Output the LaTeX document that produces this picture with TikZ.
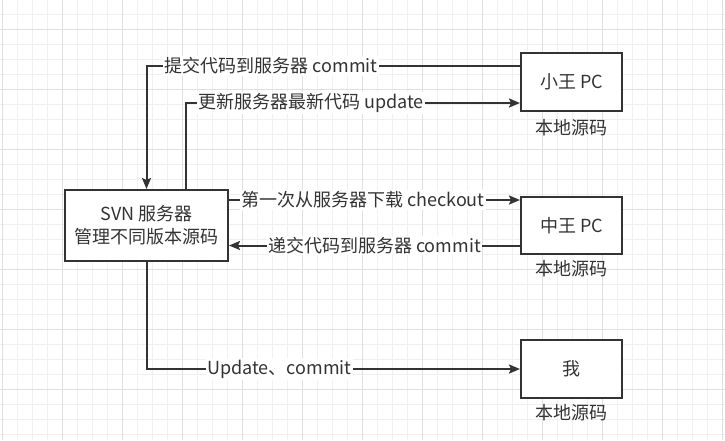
\documentclass[tikz,border=0pt]{standalone}
\usepackage{fontspec}
\setmainfont{Noto Sans CJK SC}
\usetikzlibrary{arrows.meta,calc}
\definecolor{ink}{HTML}{333333}
\definecolor{gridminor}{HTML}{F0F0F0}
\definecolor{gridmajor}{HTML}{E0E0E0}
\begin{document}
\begin{tikzpicture}[x=1pt,y=-1pt,
  every node/.style={text=ink},
  txt/.style={font=\fontsize{18}{23}\selectfont},
  box/.style={draw=ink, line width=2pt, fill=white, inner sep=0pt, align=center, txt},
  sub/.style={txt, anchor=center},
  lbl/.style={fill=white, inner sep=1.5pt, txt},
  conn/.style={draw=ink, line width=2pt, -{Stealth[length=11pt,width=9pt,inset=2pt]}},
]
\fill[white] (0,0) rectangle (725,440);
\useasboundingbox (0,0) rectangle (725,440);
% grid
\foreach \i in {0,...,48} \draw[gridminor, line width=1pt] ({2.3+15*\i},0) -- ({2.3+15*\i},440);
\foreach \j in {0,...,28} \draw[gridminor, line width=1pt] (0,{14+15*\j}) -- (725,{14+15*\j});
\foreach \i in {0,...,12} \draw[gridmajor, line width=1pt] ({2.3+60*\i},0) -- ({2.3+60*\i},440);
\foreach \j in {0,...,6} \draw[gridmajor, line width=1pt] (0,{29+60*\j}) -- (725,{29+60*\j});

% nodes
\node[box, minimum width=163pt, minimum height=71pt] (svn) at (146.5,225.5) {SVN 服务器\\管理不同版本源码};
\node[box, minimum width=101pt, minimum height=58pt] (xw) at (571.5,82) {小王 PC};
\node[box, minimum width=101pt, minimum height=57pt] (zw) at (571.5,225.5) {中王 PC};
\node[box, minimum width=101pt, minimum height=58pt] (me) at (571.5,369) {我};
\node[sub] (xwl) at (571.5,127.5) {本地源码};
\node[sub] (zwl) at (571.5,269) {本地源码};
\node[sub] (mel) at (571.5,413) {本地源码};

% connectors
\draw[conn] ($(xw.west)+(0,-16)$) -| node[lbl, pos=0.333] {提交代码到服务器 commit} (svn.north);
\draw[conn] ($(svn.north)+(39.5,0)$) |- node[lbl, pos=0.687] {更新服务器最新代码 update} ($(xw.west)+(0,21)$);
\draw[conn] ($(svn.east)+(0,-25.5)$) -- node[lbl, pos=0.46] {第一次从服务器下载 checkout} ($(zw.west)+(0,-25.5)$);
\draw[conn] ($(zw.west)+(0,20)$) -- node[lbl, pos=0.5] {递交代码到服务器 commit} ($(svn.east)+(0,20)$);
\draw[conn] (svn.south) |- node[lbl, pos=0.678] {Update、commit} (me.west);
\end{tikzpicture}
\end{document}
